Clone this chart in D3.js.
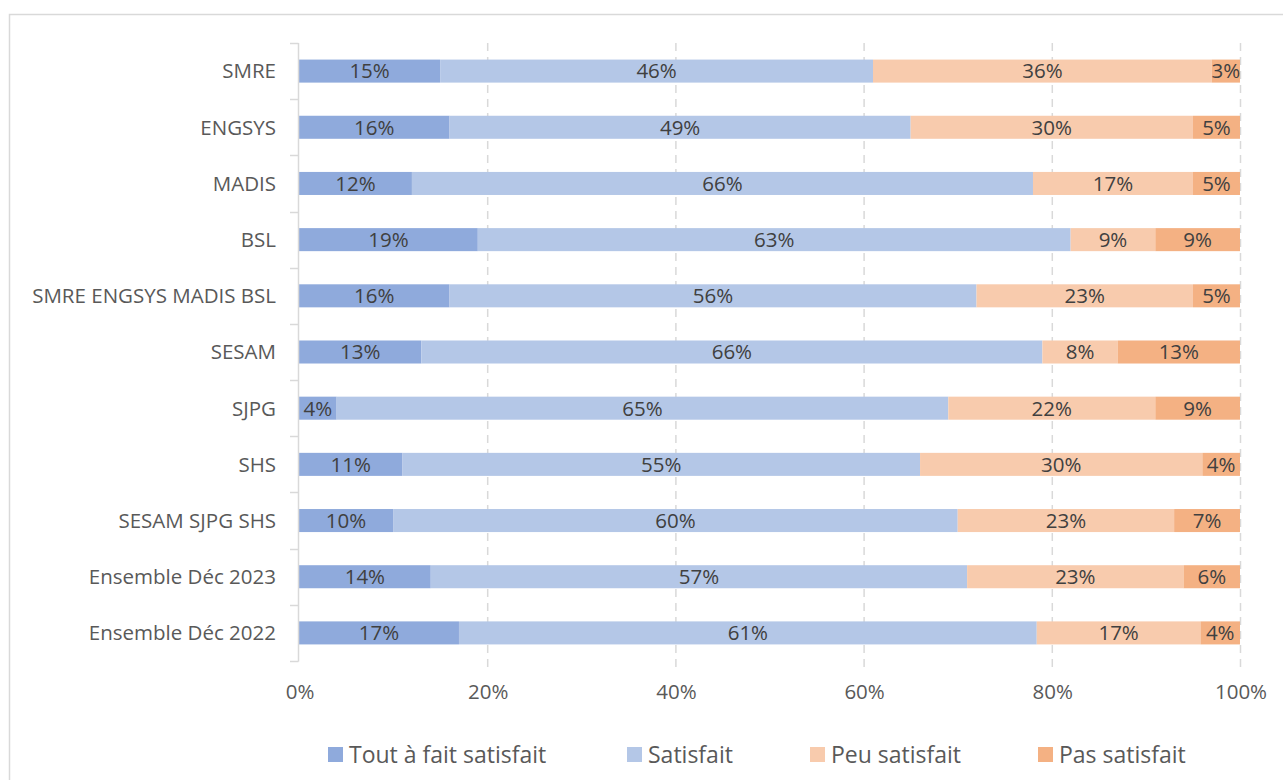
<!DOCTYPE html>
<html>
<head>
<meta charset="utf-8">
<script src="https://cdn.jsdelivr.net/npm/d3@7"></script>
<style>
  body { margin: 0; background: #fff; }
  svg text { font-family: "Open Sans", "Noto Sans", sans-serif; }
</style>
</head>
<body>
<svg id="chart" width="1283" height="780"></svg>
<script>
// Categories, top to bottom
const categories = [
    'SMRE', 'ENGSYS', 'MADIS', 'BSL', 'SMRE ENGSYS MADIS BSL',
    'SESAM', 'SJPG', 'SHS', 'SESAM SJPG SHS',
    'Ensemble Déc 2023', 'Ensemble Déc 2022'
];
const seriesNames = ['Tout à fait satisfait', 'Satisfait', 'Peu satisfait', 'Pas satisfait'];
const seriesColors = ['#8faadc', '#b4c7e7', '#f8cbad', '#f4b183'];

// Values in percent, one array per series (same order as categories)
const toutAFait = [15, 16, 12, 19, 16, 13, 4, 11, 10, 14, 17];
const satisfait = [46, 49, 66, 63, 56, 66, 65, 55, 60, 57, 61.4];
const peuSatisfait = [36, 30, 17, 9, 23, 8, 22, 30, 23, 23, 17.4];
const pasSatisfait = [3, 5, 5, 9, 5, 13, 9, 4, 7, 6, 4.2];
const xTicks = [0, 20, 40, 60, 80, 100];

const svg = d3.select('#chart');

// Chart area border (Excel style, runs off the page right and bottom)
svg.append('rect')
    .attr('x', 9.5).attr('y', 14.5)
    .attr('width', 1290).attr('height', 800)
    .attr('fill', 'none')
    .attr('stroke', '#d9d9d9')
    .attr('stroke-width', 1.5);

const x = d3.scaleLinear().domain([0, 100]).range([299, 1240]);
const y = d3.scaleBand().domain(categories).range([43, 661]).paddingInner(0.59).paddingOuter(0.295);

// Stack the series
const rows = categories.map((c, i) => ({
    cat: c,
    s0: toutAFait[i], s1: satisfait[i], s2: peuSatisfait[i], s3: pasSatisfait[i]
}));
const stack = d3.stack().keys(['s0', 's1', 's2', 's3'])(rows);

// Dashed vertical gridlines
svg.append('g')
    .selectAll('line')
    .data(xTicks.filter(t => t > 0))
    .enter()
    .append('line')
    .attr('x1', d => x(d) + 0.5).attr('x2', d => x(d) + 0.5)
    .attr('y1', 43).attr('y2', 668)
    .attr('stroke', '#d9d9d9')
    .attr('stroke-width', 1.5)
    .attr('stroke-dasharray', '8,6');

// Bars
const layers = svg.append('g')
    .selectAll('g')
    .data(stack)
    .enter()
    .append('g')
    .attr('fill', (d, i) => seriesColors[i]);

layers.selectAll('rect')
    .data(d => d)
    .enter()
    .append('rect')
    .attr('x', d => x(d[0]))
    .attr('y', d => y(d.data.cat))
    .attr('width', d => x(d[1]) - x(d[0]))
    .attr('height', y.bandwidth());

// Data labels, centred in each segment
layers.selectAll('text')
    .data(d => d)
    .enter()
    .append('text')
    .attr('x', d => (x(d[0]) + x(d[1])) / 2)
    .attr('y', d => y(d.data.cat) + y.bandwidth() / 2)
    .attr('dy', '0.36em')
    .attr('text-anchor', 'middle')
    .attr('fill', '#404040')
    .attr('font-size', 20.5)
    .text(d => Math.round(d[1] - d[0]) + '%');

// Vertical category axis
const axisG = svg.append('g');
axisG.append('line')
    .attr('x1', 298.5).attr('x2', 298.5)
    .attr('y1', 43).attr('y2', 661.5)
    .attr('stroke', '#d9d9d9').attr('stroke-width', 1.5);

const bounds = categories.map(c => y(c) - y.step() * y.paddingInner() / 2).concat([661]);
axisG.selectAll('.tick')
    .data(bounds)
    .enter()
    .append('line')
    .attr('x1', 290).attr('x2', 298.5)
    .attr('y1', d => Math.round(d) + 0.5).attr('y2', d => Math.round(d) + 0.5)
    .attr('stroke', '#d9d9d9').attr('stroke-width', 1.5);

axisG.selectAll('.cat')
    .data(categories)
    .enter()
    .append('text')
    .attr('x', 276)
    .attr('y', d => y(d) + y.bandwidth() / 2)
    .attr('dy', '0.36em')
    .attr('text-anchor', 'end')
    .attr('fill', '#595959')
    .attr('font-size', 20.5)
    .text(d => d);

// X tick labels
svg.append('g')
    .selectAll('text')
    .data(xTicks)
    .enter()
    .append('text')
    .attr('x', d => x(d) + 1)
    .attr('y', 692)
    .attr('dy', '0.36em')
    .attr('text-anchor', 'middle')
    .attr('fill', '#595959')
    .attr('font-size', 20.5)
    .text(d => d + '%');

// Legend
const legendX = [328, 627, 810, 1038];
const legend = svg.append('g')
    .selectAll('g')
    .data(seriesNames)
    .enter()
    .append('g')
    .attr('transform', (d, i) => `translate(${legendX[i]},747)`);

legend.append('rect')
    .attr('width', 15).attr('height', 15)
    .attr('fill', (d, i) => seriesColors[i]);

legend.append('text')
    .attr('x', 21)
    .attr('y', 7.5)
    .attr('dy', '0.36em')
    .attr('fill', '#595959')
    .attr('font-size', 23)
    .text(d => d);
</script>
</body>
</html>
